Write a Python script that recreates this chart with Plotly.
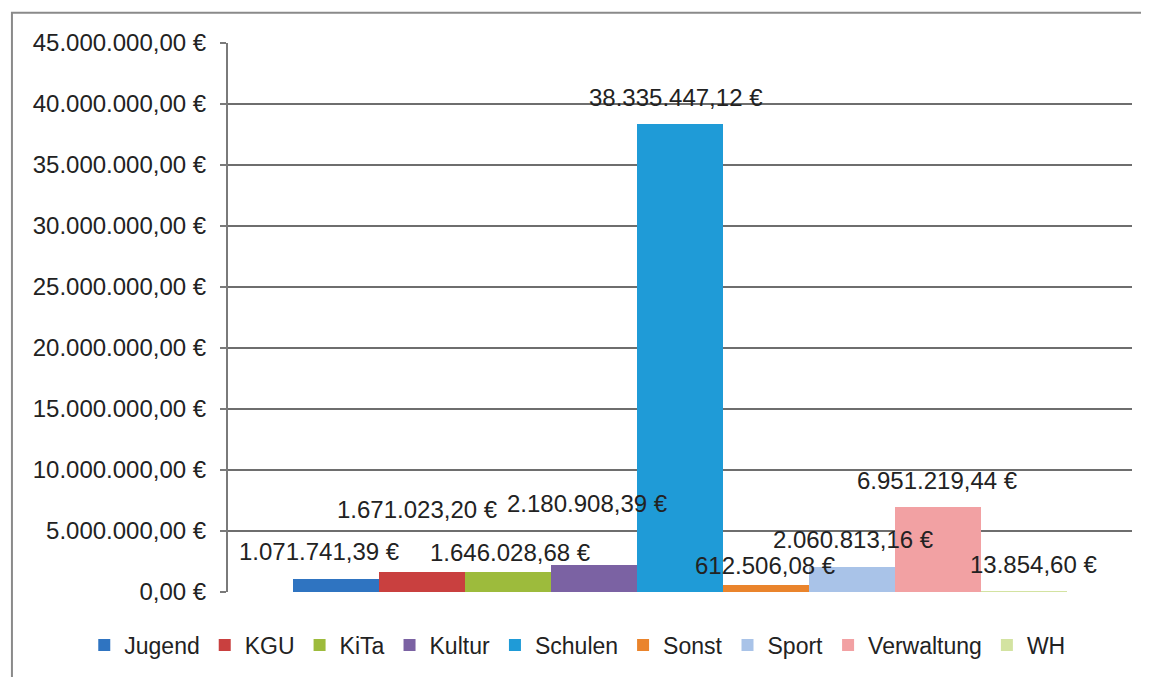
import plotly.graph_objects as go

# Ausgaben je Bereich (Euro)
bereiche = ["Jugend", "KGU", "KiTa", "Kultur", "Schulen", "Sonst", "Sport", "Verwaltung", "WH"]
betraege = [1071741.39, 1671023.20, 1646028.68, 2180908.39, 38335447.12,
            612506.08, 2060813.16, 6951219.44, 13854.60]
farben = ["#2f74c1", "#c9403f", "#9dbb3c", "#7b62a3", "#1f9bd7",
          "#ea842c", "#a9c3e8", "#f2a1a3", "#d3e3a1"]

# label nudges in pixels (the Excel labels sit a bit above the bars)
label_dy = [27, 62, 19, 62, 27, 19, 27, 27, 27]
label_dx = [-17, -5, 2, -7, -4, 0, 2, 0, 10]


def euro(v):
    s = f"{v:,.2f}".replace(",", "X").replace(".", ",").replace("X", ".")
    return s + " €"


fig = go.Figure()
for i, (name, val, col) in enumerate(zip(bereiche, betraege, farben)):
    fig.add_trace(go.Bar(x=[i], y=[val], width=1, name=name,
                         marker=dict(color=col, line=dict(width=0))))
    fig.add_annotation(x=i, y=val, text=euro(val), showarrow=False,
                       xanchor="center", yanchor="middle",
                       yshift=label_dy[i], xshift=label_dx[i],
                       font=dict(size=24, color="#222222"))

# the page body adds an 8px offset, so the margins are 8px smaller than the screen positions
fig.update_layout(
    width=1149, height=677,
    margin=dict(l=220, r=25, t=35, b=93, autoexpand=False),
    paper_bgcolor="white", plot_bgcolor="white",
    font=dict(family="Liberation Sans, Arial, sans-serif", color="#222222"),
    separators=",.",
    showlegend=True,
    legend=dict(orientation="h", x=-0.159, xanchor="left",
                y=-0.0965, yanchor="middle",
                font=dict(size=23, color="#222222"), traceorder="normal"),
    bargap=0,
)
fig.update_xaxes(range=[-1.257, 9.257], showticklabels=False, showgrid=False,
                 zeroline=False, showline=False, ticks="")
fig.update_yaxes(range=[0, 45e6], dtick=5e6, tickformat=",.2f", ticksuffix=" €",
                 tickfont=dict(size=24, color="#222222"),
                 showgrid=True, gridcolor="#6e6e6e", gridwidth=2,
                 showline=True, linecolor="#7a7a7a", linewidth=2,
                 ticks="outside", ticklen=6, tickcolor="#7a7a7a", tickwidth=2,
                 ticklabelstandoff=9, zeroline=False, automargin=False)

# outer frame of the scanned chart
fig.add_shape(type="rect", xref="paper", yref="paper",
              x0=-0.239, x1=1.05, y0=-0.2, y1=1.055,
              line=dict(color="#8a8a8a", width=2), layer="below")

fig.write_html("out.html")
